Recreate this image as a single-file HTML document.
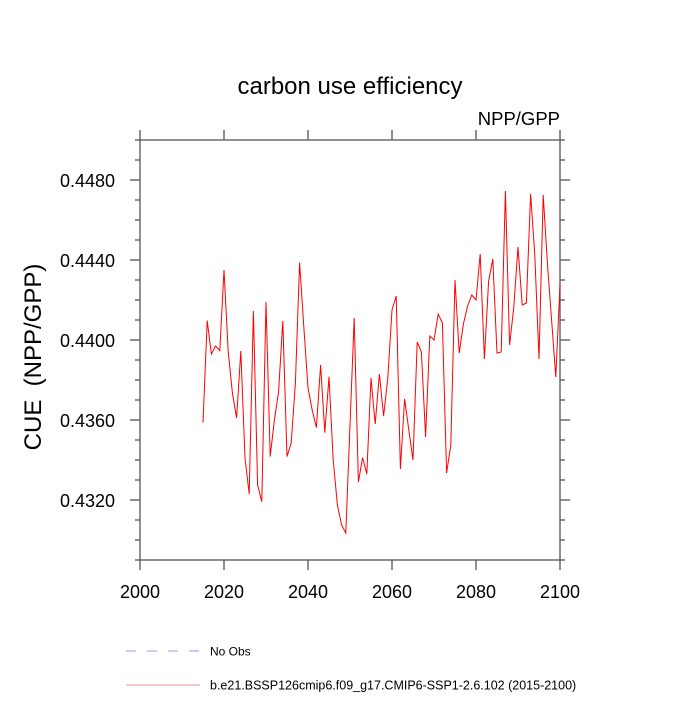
<!DOCTYPE html>
<html><head><meta charset="utf-8"><style>
body{margin:0;background:#fff}
svg text{font-family:"Liberation Sans",sans-serif;fill:#000}
</style></head><body>
<svg id="chart" width="700" height="700">
<text x="350" y="94" font-size="24" text-anchor="middle">carbon use efficiency</text>
<text x="560" y="125" font-size="18.5" text-anchor="end">NPP/GPP</text>
<text transform="translate(41,357) rotate(-90)" font-size="24" text-anchor="middle" xml:space="preserve" style="white-space:pre">CUE  (NPP/GPP)</text>
<g id="axes"></g>
<polyline id="series" fill="none" stroke="#ff0000" stroke-width="1"/>
<line x1="126" y1="651" x2="200" y2="651" stroke="#9999ee" stroke-dasharray="10,11"/>
<text x="210" y="655.5" font-size="12">No Obs</text>
<line x1="126" y1="685" x2="200" y2="685" stroke="#f09090"/>
<text x="210" y="689.5" font-size="12.5">b.e21.BSSP126cmip6.f09_g17.CMIP6-SSP1-2.6.102 (2015-2100)</text>
</svg>
<script>
const startYear = 2015;
const cueValues = [0.43587,0.44097,0.4393,0.4397,0.43947,0.4435,0.43942,0.43735,0.4361,0.43945,
0.4341,0.4323,0.44145,0.43275,0.43192,0.4419,0.43417,0.436,0.43742,0.44095,
0.43417,0.43485,0.43785,0.44387,0.44067,0.4376,0.4365,0.43562,0.43875,0.43537,
0.43817,0.434,0.43175,0.43075,0.43035,0.43575,0.4411,0.4329,0.43412,0.4333,
0.4381,0.4358,0.4383,0.4362,0.4381,0.4415,0.4422,0.43355,0.43705,0.4355,
0.434,0.4399,0.4394,0.43515,0.4402,0.44,0.4413,0.44085,0.43335,0.43475,
0.443,0.43935,0.4408,0.4417,0.44225,0.442,0.4443,0.43905,0.44295,0.44405,
0.43935,0.4394,0.44745,0.43975,0.44165,0.44465,0.44175,0.44185,0.4473,0.44425,
0.43905,0.44725,0.44385,0.441,0.43815,0.4428];
const xTickLabels = ["2000","2020","2040","2060","2080","2100"];
const yTickLabels = ["0.4320","0.4360","0.4400","0.4440","0.4480"];
const X0=140,X1=560,Y0=140,Y1=560;
const xMin=2000,xMax=2100,yMin=0.4290,yMax=0.4500;
const sx=v=>X0+(v-xMin)/(xMax-xMin)*(X1-X0);
const sy=v=>Y1-(v-yMin)/(yMax-yMin)*(Y1-Y0);
const NS="http://www.w3.org/2000/svg";
const g=document.getElementById('axes');
function ln(x1,y1,x2,y2,name){const l=document.createElementNS(NS,'line');
l.setAttribute('x1',x1);l.setAttribute('y1',y1);l.setAttribute('x2',x2);l.setAttribute('y2',y2);
l.setAttribute('stroke','#555');l.setAttribute('stroke-width','1.3');


g.appendChild(l);}
const fr=document.createElementNS(NS,'rect');
fr.setAttribute('x',X0);fr.setAttribute('y',Y0);fr.setAttribute('width',X1-X0);fr.setAttribute('height',Y1-Y0);
fr.setAttribute('fill','none');fr.setAttribute('stroke','#555');fr.setAttribute('stroke-width','1.3');


g.appendChild(fr);
for(let yr=xMin;yr<=xMax;yr+=20){const x=sx(yr);
ln(x,Y1,x,Y1+10,'x-tick');ln(x,Y0,x,Y0-10,'x-tick-top');}
for(let k=0;k<=21;k++){const v=yMin+k*0.001;const y=sy(v);const major=((k-3)%4===0);const L=major?10:5;
ln(X0-L,y,X0,y,'y-tick');ln(X1,y,X1+L,y,'y-tick-right');}
xTickLabels.forEach(s=>{const t=document.createElementNS(NS,'text');
t.setAttribute('x',sx(+s));t.setAttribute('y',Y1+38);t.setAttribute('font-size','18');t.setAttribute('text-anchor','middle');
t.textContent=s;


g.appendChild(t);});
yTickLabels.forEach(s=>{const t=document.createElementNS(NS,'text');
t.setAttribute('x',X0-25);t.setAttribute('y',sy(+s)+7);t.setAttribute('font-size','18');t.setAttribute('text-anchor','end');
t.textContent=s;


g.appendChild(t);});
document.getElementById('series').setAttribute('points',
cueValues.map((v,i)=>sx(startYear+i)+','+sy(v)).join(' '));
</script>
</body></html>
